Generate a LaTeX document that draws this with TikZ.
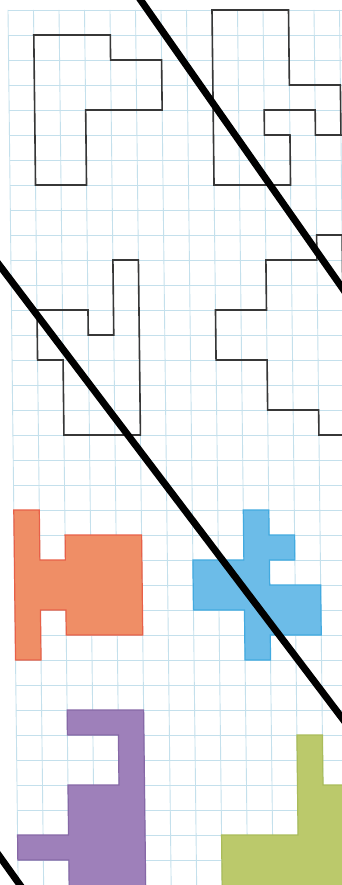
\documentclass[tikz,border=0pt]{standalone}
\definecolor{gridblue}{RGB}{196,224,236}
\definecolor{outl}{RGB}{55,55,55}
\definecolor{orfill}{RGB}{239,142,102}
\definecolor{ordraw}{RGB}{232,96,72}
\definecolor{blfill}{RGB}{108,188,232}
\definecolor{bldraw}{RGB}{66,170,224}
\definecolor{pufill}{RGB}{158,128,186}
\definecolor{pudraw}{RGB}{134,104,166}
\definecolor{grfill}{RGB}{187,201,107}
\definecolor{grdraw}{RGB}{170,188,90}
\tikzset{
  gridline/.style={draw=gridblue,line width=0.9pt},
  outline/.style={draw=outl,line width=1.6pt,line join=miter},
  colshape/.style={line width=1.2pt,line join=miter},
  cutline/.style={draw=black,line width=7pt}
}
\begin{document}
\begin{tikzpicture}
\path[use as bounding box] (0,0) rectangle (342pt,-885pt);
\fill[white] (0,0) rectangle (342pt,-885pt);
\clip (0,0) rectangle (342pt,-885pt);
\begin{scope}[x={(25.5pt,0pt)},y={(0.29pt,-25pt)},shift={(8pt,-10pt)}]
  % grid
  \foreach \i in {0,...,13} \draw[gridline] (\i,0) -- (\i,35.4);
  \foreach \j in {0,...,35} \draw[gridline] (0,\j) -- (13.6,\j);
  % outlined shapes
  \draw[outline] (1,1) -- (4,1) -- (4,2) -- (6,2) -- (6,4) -- (3,4) -- (3,7) -- (1,7) -- cycle;
  \draw[outline] (8,0) -- (11,0) -- (11,3) -- (13,3) -- (13,5) -- (12,5) -- (12,4) -- (10,4) -- (10,5) -- (11,5) -- (11,7) -- (8,7) -- cycle;
  \draw[outline] (4,10) -- (5,10) -- (5,17) -- (2,17) -- (2,14) -- (1,14) -- (1,12) -- (3,12) -- (3,13) -- (4,13) -- cycle;
  \draw[outline] (12,9) -- (13,9) -- (13,17) -- (12,17) -- (12,16) -- (10,16) -- (10,14) -- (8,14) -- (8,12) -- (10,12) -- (10,10) -- (12,10) -- cycle;
  % coloured shapes
  \filldraw[colshape,fill=orfill,draw=ordraw] (0,20) -- (1,20) -- (1,22) -- (2,22) -- (2,21) -- (5,21) -- (5,25) -- (2,25) -- (2,24) -- (1,24) -- (1,26) -- (0,26) -- cycle;
  \filldraw[colshape,fill=blfill,draw=bldraw] (9,20) -- (10,20) -- (10,21) -- (11,21) -- (11,22) -- (10,22) -- (10,23) -- (12,23) -- (12,25) -- (10,25) -- (10,26) -- (9,26) -- (9,24) -- (7,24) -- (7,22) -- (9,22) -- cycle;
  \filldraw[colshape,fill=pufill,draw=pudraw] (2,28) -- (5,28) -- (5,36) -- (2,36) -- (2,34) -- (0,34) -- (0,33) -- (2,33) -- (2,31) -- (4,31) -- (4,29) -- (2,29) -- cycle;
  \filldraw[colshape,fill=grfill,draw=grdraw] (11,29) -- (12,29) -- (12,31) -- (14,31) -- (14,36) -- (8,36) -- (8,33) -- (11,33) -- cycle;
\end{scope}
% cut lines
\coordinate (a1) at (137.1pt,5pt);
\coordinate (a2) at (350pt,-299pt);
\coordinate (b1) at (-10pt,-252.8pt);
\coordinate (b2) at (352pt,-731.2pt);
\coordinate (c1) at (-10pt,-843pt);
\coordinate (c2) at (25pt,-892pt);
\draw[cutline] (a1) -- (a2);
\draw[cutline] (b1) -- (b2);
\draw[cutline] (c1) -- (c2);
\end{tikzpicture}
\end{document}
